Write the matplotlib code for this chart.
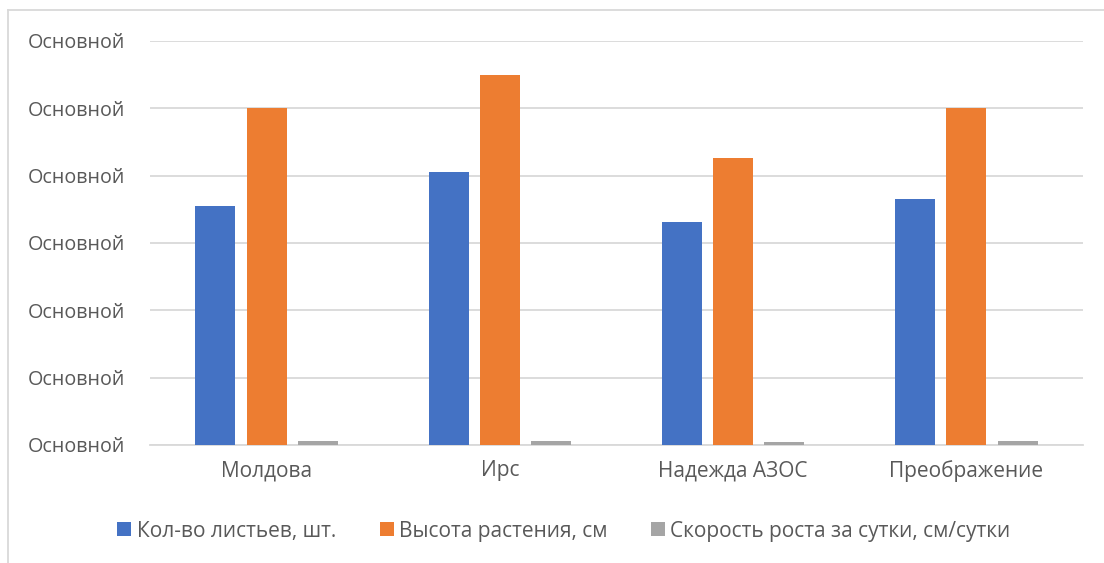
import numpy as np
import matplotlib
matplotlib.use('Agg')
import matplotlib.pyplot as plt
from matplotlib.lines import Line2D

# data
categories = ['Молдова', 'Ирс', 'Надежда АЗОС', 'Преображение']
leaves = [35.5, 40.5, 33.1, 36.5]
height = [50.0, 55.0, 42.6, 50.0]
growth = [0.55, 0.64, 0.45, 0.6]
series_names = ['Кол-во листьев, шт.', 'Высота растения, см',
                'Скорость роста за сутки, см/сутки']
y_ticks = [0, 10, 20, 30, 40, 50, 60]
y_tick_label = 'Основной'

colors = ['#4472C4', '#ED7D31', '#A5A5A5']
text_color = '#595959'
grid_color = '#D9D9D9'

plt.rcParams['font.family'] = ['Open Sans', 'DejaVu Sans']
fs = 14.2

W, H = 1104, 563
fig = plt.figure(figsize=(W / 100, H / 100), dpi=100)

# plot area in pixels: x 150..1083, y 41..445
ax = fig.add_axes([150 / W, 1 - 445 / H, (1083 - 150) / W, (445 - 41) / H])

x = np.arange(len(categories))
bw = 0.171
step = 0.22
for i, vals in enumerate([leaves, height, growth]):
    ax.bar(x + (i - 1) * step, vals, width=bw, color=colors[i],
           label=series_names[i], zorder=3)

ax.set_xlim(-0.5, len(categories) - 0.5)
ax.set_ylim(y_ticks[0], y_ticks[-1])
ax.set_yticks(y_ticks)
ax.set_yticklabels([y_tick_label] * len(y_ticks))
ax.set_xticks(x)
ax.set_xticklabels(categories)
ax.tick_params(axis='both', length=0, colors=text_color, labelsize=fs)
ax.tick_params(axis='x', labelsize=15)
ax.tick_params(axis='y', pad=18)
ax.tick_params(axis='x', pad=11)
ax.yaxis.grid(True, color=grid_color, linewidth=1.3, zorder=0)
for s in ['top', 'right', 'left']:
    ax.spines[s].set_visible(False)
ax.spines['bottom'].set_color(grid_color)
ax.spines['bottom'].set_linewidth(1.3)

leg = fig.legend(loc='center', bbox_to_anchor=(564 / W, 1 - 531 / H), ncol=3,
                 frameon=False, fontsize=15, handlelength=0.67,
                 handleheight=0.67, handletextpad=0.25, columnspacing=2.1)
for t in leg.get_texts():
    t.set_color(text_color)

# chart border (cropped: only top and left visible)
fig.add_artist(Line2D([8 / W, 1], [1 - 10 / H, 1 - 10 / H], color=grid_color,
                      linewidth=1.3, transform=fig.transFigure))
fig.add_artist(Line2D([8 / W, 8 / W], [0, 1 - 10 / H], color=grid_color,
                      linewidth=1.3, transform=fig.transFigure))

fig.savefig('out.png', dpi=100)
